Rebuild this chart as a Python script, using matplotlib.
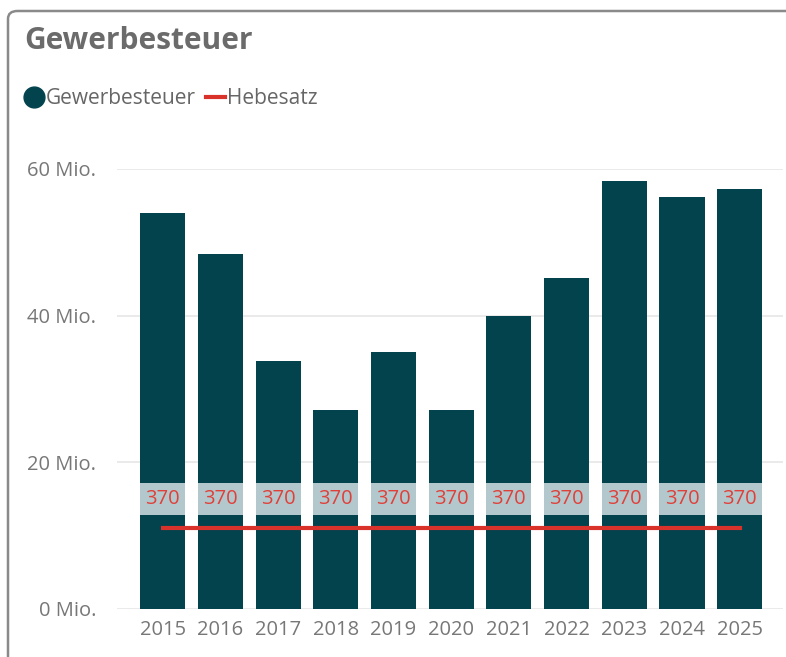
import matplotlib.pyplot as plt
from matplotlib.patches import FancyBboxPatch
from matplotlib.lines import Line2D

plt.rcParams['font.family'] = ['Open Sans', 'DejaVu Sans']

jahre = ['2015', '2016', '2017', '2018', '2019', '2020', '2021', '2022', '2023', '2024', '2025']
gewerbesteuer = [54.0, 48.4, 33.8, 27.1, 35.1, 27.2, 40.0, 45.2, 58.4, 56.2, 57.3]  # Mio. EUR
hebesatz = [370, 370, 370, 370, 370, 370, 370, 370, 370, 370, 370]
yticks = [0, 20, 40, 60]
ytick_labels = ['0 Mio.', '20 Mio.', '40 Mio.', '60 Mio.']

bar_col = '#02434e'
red = '#d8322a'
grey = '#777777'

W, H = 786, 657
fig = plt.figure(figsize=(W / 100, H / 100), dpi=100)

# card border
card = FancyBboxPatch((8 / W, -0.1), 1.2, (H - 11) / H + 0.1, boxstyle='round,pad=0,rounding_size=0.012',
                      transform=fig.transFigure, fill=False, ec='#8a8a8a', lw=1.8)
fig.patches.append(card)

fig.text(24 / W, 1 - 41 / H, 'Gewerbesteuer', fontsize=21.5, fontweight='bold', color='#6b6b6b', va='center')

ax = fig.add_axes([117 / W, 1 - 609 / H, (783 - 117) / W, (609 - 169) / H])
x = list(range(len(jahre)))
ax.bar(x, gewerbesteuer, width=0.78, color=bar_col, zorder=2)
# label background boxes
ax.bar(x, [4.35] * len(x), bottom=12.85, width=0.78, color='#b2c8cc', zorder=3)
for xi, v in zip(x, hebesatz):
    ax.text(xi, 15.0, str(v), ha='center', va='center', color='#e0403a', fontsize=14.5, zorder=4)

ax.set_ylim(0, 60)
ax.set_xlim(-0.79, 10.75)
ax.set_yticks(yticks)
ax.set_yticklabels(ytick_labels)
ax.set_xticks(x)
ax.set_xticklabels(jahre)
ax.tick_params(length=0, labelsize=14.5, colors=grey)
ax.tick_params(axis='y', pad=15)
ax.tick_params(axis='x', pad=8)
ax.grid(axis='y', color='#e6e6e6', lw=1.2, zorder=0)
for s in ax.spines.values():
    s.set_visible(False)

ax2 = ax.twinx()
ax2.plot(x, hebesatz, color=red, lw=3, zorder=5)
ax2.set_ylim(0, 2005)
ax2.axis('off')

handles = [Line2D([], [], marker='o', ls='none', color=bar_col, markersize=15),
           Line2D([], [], color=red, lw=3)]
fig.legend(handles, ['Gewerbesteuer', 'Hebesatz'], loc='center left', bbox_to_anchor=(25 / W, 1 - 99 / H),
           ncol=2, frameon=False, fontsize=15, labelcolor='#666666', handlelength=0.9,
           handletextpad=0.1, columnspacing=0.5, borderpad=0, borderaxespad=0)

fig.savefig('out.png', dpi=100)
